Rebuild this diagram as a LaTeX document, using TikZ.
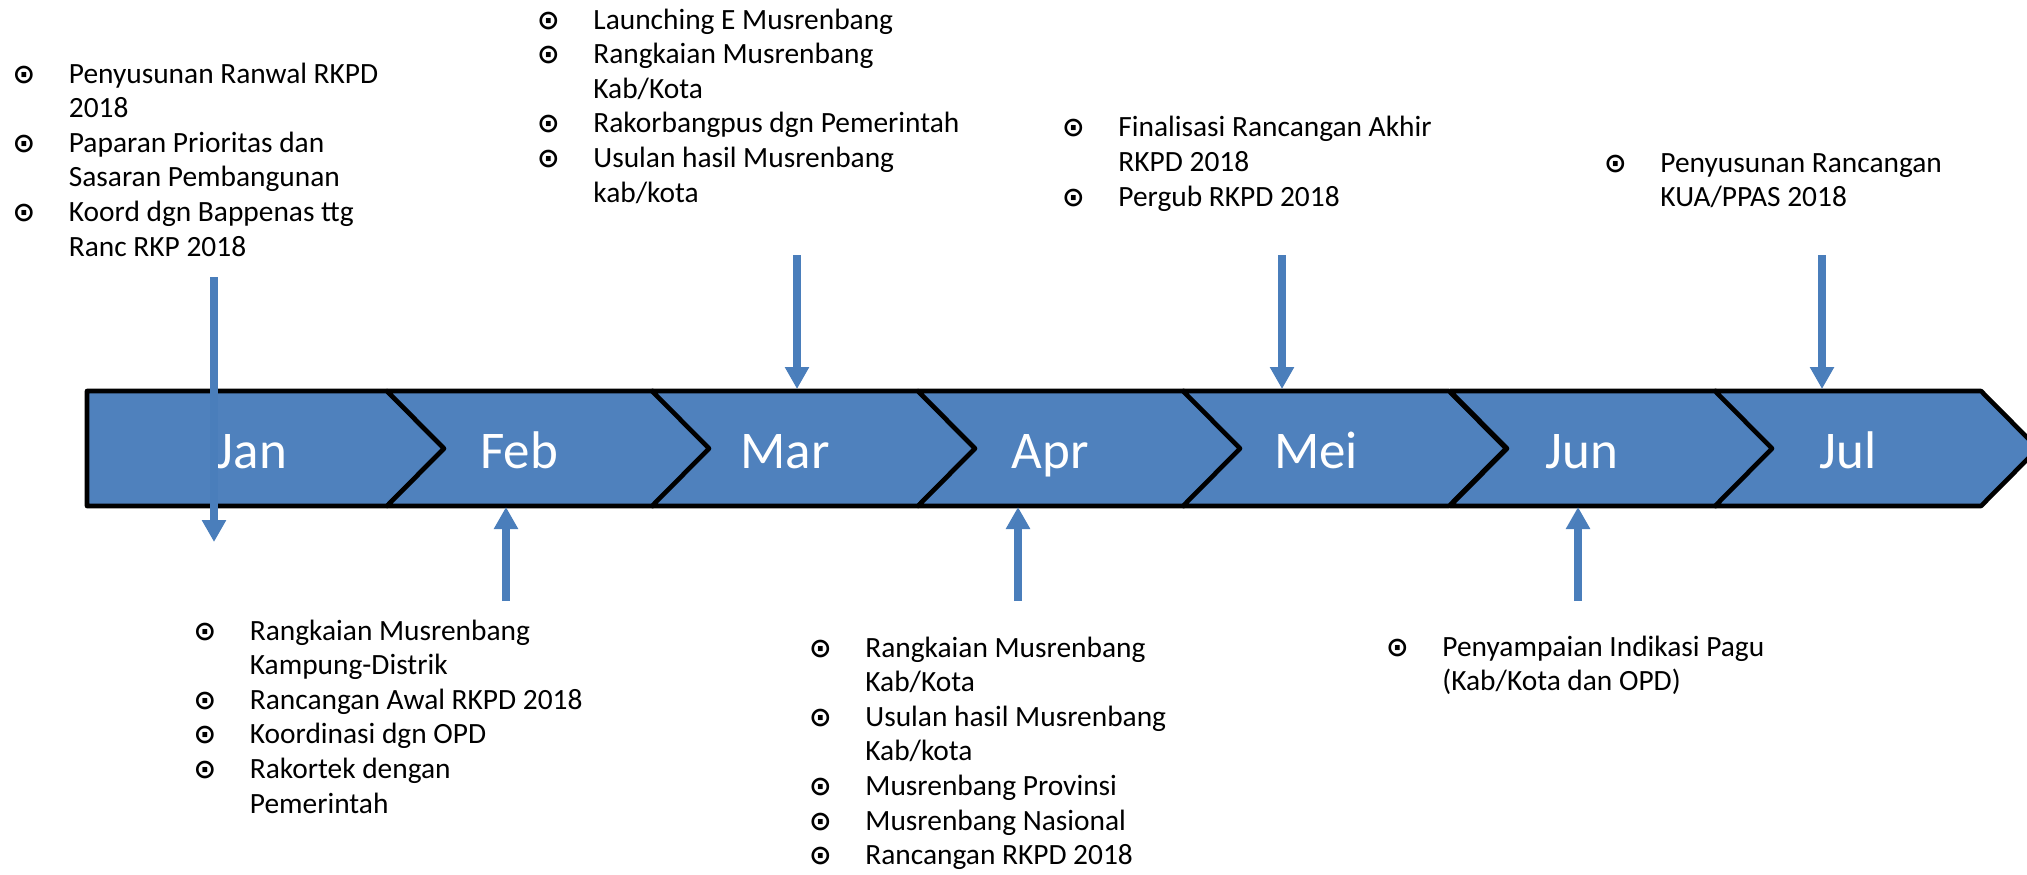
\documentclass[tikz,border=0pt]{standalone}
\usepackage{fontspec}
\setmainfont{Carlito}
\newfontfamily\dejavu{DejaVu Sans}
\usetikzlibrary{arrows.meta}

\definecolor{barblue}{HTML}{4F81BD}
\definecolor{arrowblue}{HTML}{4A7EBB}

\newcommand{\bul}{\llap{\makebox[0pt]{\dejavu\bfseries\fontsize{13.5}{13.5}\selectfont ⊙}\hspace{22.5pt}}}

\tikzset{
    bar/.style={fill=barblue, draw=black, line width=2.3pt, line join=round},
    month/.style={text=white, font=\fontsize{26.5}{30}\selectfont, anchor=base, inner sep=0pt},
    evt/.style={align=left, anchor=base west, inner sep=0pt, font=\fontsize{14.7}{17.3}\selectfont},
    link/.style={draw=arrowblue, line width=3.6pt, -{Triangle[length=11pt,width=11.5pt]}}
}

\begin{document}
\begin{tikzpicture}[x=0.5pt, y=-0.5pt]
    \useasboundingbox (0,0) rectangle (2027,874);
    \clip (0,0) rectangle (2027,874);

    % timeline
    \draw[bar] (87,391) -- (387,391) -- (444,448.5) -- (387,506) -- (87,506) -- cycle;
    \foreach \x in {387,652,918,1183,1450,1715}
    {
        \draw[bar] (\x,391) -- ++(266,0) -- ++(57,57.5) -- ++(-57,57.5) -- ++(-266,0) -- ++(57,-57.5) -- cycle;
    }
    \foreach \x/\m in {252/Jan,519/Feb,785/Mar,1050/Apr,1316/Mei,1582/Jun,1848/Jul}
    {
        \node[month] (\m) at (\x,468) {\m};
    }

    % arrows
    \foreach \n/\x/\ya/\yb in {jan/214/277/542,feb/506/601/507,mar/797/255/389,apr/1018/601/507,mei/1282/255/389,jun/1578/601/507,jul/1822/255/389}
    {
        \coordinate (\n-a) at (\x,\ya);
        \coordinate (\n-b) at (\x,\yb);
        \draw[link] (\n-a) -- (\n-b);
    }

    % activities (base = last line)
    \node[evt] (ev-jan) at (68.5,256) {\bul Penyusunan Ranwal RKPD\\2018\\\bul Paparan Prioritas dan\\Sasaran Pembangunan\\\bul Koord dgn Bappenas ttg\\Ranc RKP 2018};
    \node[evt] (ev-mar) at (593,202) {\bul Launching E Musrenbang\\\bul Rangkaian Musrenbang\\Kab/Kota\\\bul Rakorbangpus dgn Pemerintah\\\bul Usulan hasil Musrenbang\\kab/kota};
    \node[evt] (ev-mei) at (1118,206) {\bul Finalisasi Rancangan Akhir\\RKPD 2018\\\bul Pergub RKPD 2018};
    \node[evt] (ev-jul) at (1660,206.6) {\bul Penyusunan Rancangan\\KUA/PPAS 2018};
    \node[evt] (ev-feb) at (249.5,813) {\bul Rangkaian Musrenbang\\Kampung-Distrik\\\bul Rancangan Awal RKPD 2018\\\bul Koordinasi dgn OPD\\\bul Rakortek dengan\\Pemerintah};
    \node[evt] (ev-apr) at (865,864.6) {\bul Rangkaian Musrenbang\\Kab/Kota\\\bul Usulan hasil Musrenbang\\Kab/kota\\\bul Musrenbang Provinsi\\\bul Musrenbang Nasional\\\bul Rancangan RKPD 2018};
    \node[evt] (ev-jun) at (1442,690.6) {\bul Penyampaian Indikasi Pagu\\(Kab/Kota dan OPD)};
\end{tikzpicture}
\end{document}
